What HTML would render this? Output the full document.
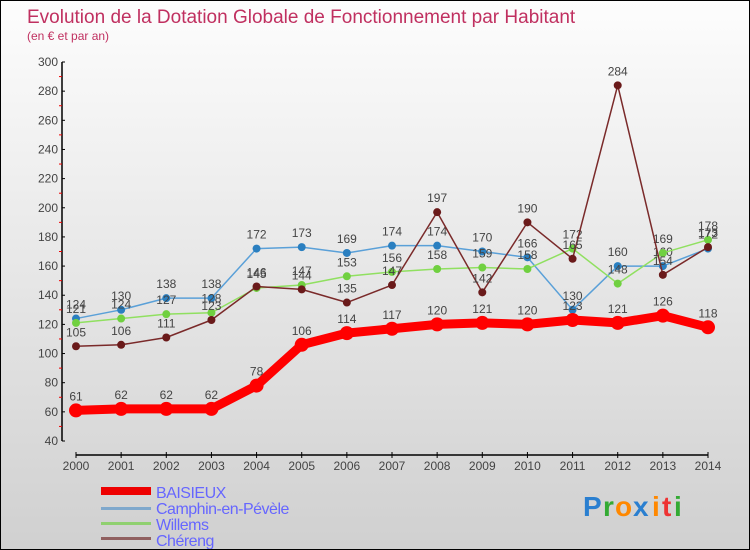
<!DOCTYPE html>
<html><head><meta charset="utf-8"><style>
body{margin:0}
#c{width:750px;height:550px;position:relative;box-sizing:border-box;border:1px solid #000;background:linear-gradient(#fdfdfd,#d0d0d0);font-family:"Liberation Sans",sans-serif;overflow:hidden}
</style></head><body>
<div id="c">
<svg id="s" width="750" height="550" style="position:absolute;left:0;top:0">
<text x="26" y="22" font-size="19" fill="#c03060">Evolution de la Dotation Globale de Fonctionnement par Habitant</text>
<text x="26" y="39" font-size="12" fill="#c03060">(en € et par an)</text>
<g id="axes"></g><g id="series"></g>
<g letter-spacing="-0.5">
<rect x="100" y="486" width="50" height="8" fill="#e00"/>
<text x="155" y="497" font-size="16" fill="#66f">BAISIEUX</text>
<rect x="100" y="506" width="50" height="3" fill="#7fa8cc"/>
<text x="155" y="513" font-size="16" fill="#66f">Camphin-en-Pévèle</text>
<rect x="100" y="521" width="50" height="3" fill="#90d070"/>
<text x="155" y="529" font-size="16" fill="#66f">Willems</text>
<rect x="100" y="536" width="50" height="3" fill="#906060"/>
<text x="155" y="545" font-size="16" fill="#66f">Chéreng</text>
</g>
<g font-size="28" font-weight="bold">
<text x="582" y="515" fill="#2a7fd0">P</text><text x="602" y="515" fill="#3a3">r</text><text x="614" y="515" fill="#f80">o</text><text x="632" y="515" fill="#2a7fd0">x</text><text x="651" y="515" fill="#f80">i</text><text x="661" y="515" fill="#e33">t</text><text x="673" y="515" fill="#3a3">i</text>
</g>
</svg>
</div>
<script>
const years=[2000,2001,2002,2003,2004,2005,2006,2007,2008,2009,2010,2011,2012,2013,2014];
const baisieux=[61,62,62,62,78,106,114,117,120,121,120,123,121,126,118];
const camphin=[124,130,138,138,172,173,169,174,174,170,166,130,160,160,172];
const willems=[121,124,127,128,145,147,153,156,158,159,158,172,148,169,178];
const chereng=[105,106,111,123,146,144,135,147,197,142,190,165,284,154,173];
const yTicks=[40,60,80,100,120,140,160,180,200,220,240,260,280,300];
const NS="http://www.w3.org/2000/svg";
const X=i=>75+i*(707-75)/14;
const Y=v=>440-(v-40)*(440-61)/260;
function mk(t,a,p){const e=document.createElementNS(NS,t);for(const k in a)e.setAttribute(k,a[k]);p.appendChild(e);return e;}
const ax=document.getElementById('axes');
let l=mk('line',{x1:61,y1:61,x2:61,y2:440,stroke:'#000','stroke-width':1.5},ax);


yTicks.forEach((v,i)=>{
 mk('line',{x1:61,y1:Y(v),x2:64,y2:Y(v),stroke:'#000'},ax);
 if(i<yTicks.length-1)mk('line',{x1:58,y1:Y(v+10),x2:61,y2:Y(v+10),stroke:'#e00'},ax);
 const t=mk('text',{x:57,y:Y(v)+4,'font-size':12,fill:'#444','text-anchor':'end'},ax);
 t.textContent=v;
 
 
});
l=mk('line',{x1:75,y1:454,x2:707,y2:454,stroke:'#000','stroke-width':1.5},ax);


years.forEach((y,i)=>{
 mk('line',{x1:X(i),y1:451,x2:X(i),y2:457,stroke:'#000'},ax);
 const t=mk('text',{x:X(i),y:469,'font-size':12,fill:'#444','text-anchor':'middle'},ax);
 t.textContent=y;
 
 
});
const sg=document.getElementById('series');
function series(name,data,color,dot,lw,r){
 const g=mk('g',{},sg);
 
 
 mk('polyline',{points:data.map((v,i)=>X(i)+','+Y(v)).join(' '),fill:'none',stroke:color,'stroke-width':lw,'stroke-linejoin':'round'},g);
 data.forEach((v,i)=>{
  const c=mk('circle',{cx:X(i),cy:Y(v),r:r,fill:dot},g);
  
  
  const t=mk('text',{x:X(i),y:Y(v)-10,'font-size':12,fill:'#444','text-anchor':'middle'},g);
  t.textContent=v;
  
  
 });
}
series('camphin',camphin,'#5aa0d8','#2a7fc0',1.5,4);
series('willems',willems,'#90e060','#70d040',1.5,4);
series('chereng',chereng,'#7a2a2a','#6a1a1a',1.5,4);
series('baisieux',baisieux,'#f00','#f00',9,7);
</script>
</body></html>
